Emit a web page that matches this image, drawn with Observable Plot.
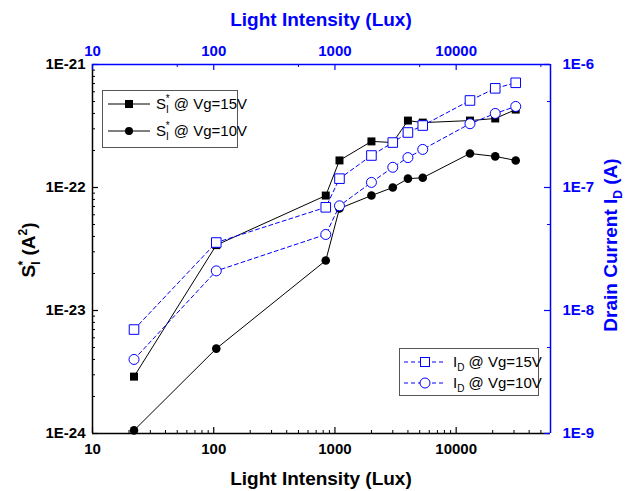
<!DOCTYPE html>
<html>
<head>
<meta charset="utf-8">
<script src="https://cdn.jsdelivr.net/npm/d3@7"></script>
<script src="https://cdn.jsdelivr.net/npm/@observablehq/plot@0.6"></script>
<style>
  body { margin: 0; background: #fff; }
  #chart { position: relative; width: 632px; height: 491px; }
  #chart svg { position: absolute; left: 0; top: 0; }
</style>
</head>
<body>
<div id="chart"></div>
<script>
// Illumination levels (lux)
const lux = [22, 105, 840, 1090, 2000, 3000, 4000, 5300, 13000, 21000, 31000];
// Normalised noise S_I* (A^2)
const noiseVg15 = [2.9e-24, 3.4e-23, 8.6e-23, 1.66e-22, 2.37e-22, 2.32e-22, 3.5e-22, 3.37e-22, 3.5e-22, 3.64e-22, 4.3e-22];
const noiseVg10 = [1.06e-24, 4.9e-24, 2.55e-23, 6.75e-23, 8.6e-23, 1.0e-22, 1.18e-22, 1.2e-22, 1.89e-22, 1.79e-22, 1.66e-22];
// Drain current I_D (A)
const currentVg15 = [7.0e-9, 3.57e-8, 6.9e-8, 1.18e-7, 1.82e-7, 2.32e-7, 2.8e-7, 3.19e-7, 5.1e-7, 6.4e-7, 7.1e-7];
const currentVg10 = [4.0e-9, 2.1e-8, 4.15e-8, 7.1e-8, 1.1e-7, 1.46e-7, 1.75e-7, 2.04e-7, 3.3e-7, 4.0e-7, 4.56e-7];

// Axis ranges and tick values
const luxDomain = [10, 60000];
const noiseDomain = [1e-24, 1e-21];
const currentDomain = [1e-9, 1e-6];
const luxTicks = [10, 100, 1000, 10000];
const noiseTicks = [1e-24, 1e-23, 1e-22, 1e-21];
const currentTicks = [1e-9, 1e-8, 1e-7, 1e-6];

const W = 632, H = 491;
const M = {top: 64, right: 82, bottom: 58, left: 92};
const plotW = W - M.left - M.right, plotH = H - M.top - M.bottom;
const blue = "#0000ff";
const font = "'Liberation Sans', Arial, sans-serif";

const sci = d => "1E" + Math.round(Math.log10(d));
function minorTicks([lo, hi], mults) {
  const out = [];
  for (let e = Math.floor(Math.log10(lo)); e <= Math.ceil(Math.log10(hi)); e++)
    for (const m of mults) {
      const v = m * Math.pow(10, e);
      if (v > lo * 1.0001 && v < hi * 0.9999) out.push(v);
    }
  return out;
}
const all = [2, 3, 4, 5, 6, 7, 8, 9];

const rows = arr => lux.map((x, i) => ({lux: x, v: arr[i]}));
const s15 = rows(noiseVg15), s10 = rows(noiseVg10);
const i15 = rows(currentVg15), i10 = rows(currentVg10);

const frameOpts = {
  width: W, height: H,
  marginTop: M.top, marginRight: M.right, marginBottom: M.bottom, marginLeft: M.left,
  style: {fontFamily: font, fontSize: "15px", fontWeight: "bold", background: "transparent", overflow: "visible"}
};

// Noise layer: bottom and left axes
const noisePlot = Plot.plot({
  ...frameOpts,
  x: {type: "log", domain: luxDomain},
  y: {type: "log", domain: noiseDomain},
  marks: [
    Plot.ruleX(minorTicks(luxDomain, all), {x: d => d, insetTop: plotH - 3, stroke: "black"}),
    Plot.ruleX(luxTicks, {x: d => d, insetTop: plotH - 6, stroke: "black", strokeWidth: 1.2}),
    Plot.ruleY(minorTicks(noiseDomain, all), {y: d => d, insetRight: plotW - 3, stroke: "black"}),
    Plot.ruleY(noiseTicks, {y: d => d, insetRight: plotW - 6, stroke: "black", strokeWidth: 1.2}),
    Plot.ruleX([luxDomain[0]], {x: d => d, stroke: "black", strokeWidth: 1.5}),
    Plot.ruleY([noiseDomain[0]], {y: d => d, stroke: "black", strokeWidth: 1.5}),
    Plot.axisX({ticks: luxTicks, tickSize: 0, tickPadding: 10, tickFormat: d => String(d), label: null, color: "black"}),
    Plot.axisY({ticks: noiseTicks, tickSize: 0, tickPadding: 7, tickFormat: sci, label: null, color: "black"}),
    Plot.line(s15, {x: "lux", y: "v", stroke: "black", strokeWidth: 1}),
    Plot.dot(s15, {x: "lux", y: "v", symbol: "square", fill: "black", r: 4.5}),
    Plot.line(s10, {x: "lux", y: "v", stroke: "black", strokeWidth: 1}),
    Plot.dot(s10, {x: "lux", y: "v", symbol: "circle", fill: "black", r: 4.3})
  ]
});

// Current layer: top and right axes
const currentPlot = Plot.plot({
  ...frameOpts,
  x: {type: "log", domain: luxDomain},
  y: {type: "log", domain: currentDomain},
  marks: [
    Plot.ruleX(minorTicks(luxDomain, [5]), {x: d => d, insetBottom: plotH - 3, stroke: blue}),
    Plot.ruleX(luxTicks, {x: d => d, insetBottom: plotH - 6, stroke: blue, strokeWidth: 1.2}),
    Plot.ruleY(minorTicks(currentDomain, [5]), {y: d => d, insetLeft: plotW - 3, stroke: blue}),
    Plot.ruleY(currentTicks, {y: d => d, insetLeft: plotW - 6, stroke: blue, strokeWidth: 1.2}),
    Plot.ruleX([luxDomain[1]], {x: d => d, stroke: blue, strokeWidth: 1.5}),
    Plot.ruleY([currentDomain[1]], {y: d => d, stroke: blue, strokeWidth: 1.5}),
    Plot.axisX({anchor: "top", ticks: luxTicks, tickSize: 0, tickPadding: 9, tickFormat: d => String(d), label: null, color: blue}),
    Plot.axisY({anchor: "right", ticks: currentTicks, tickSize: 0, tickPadding: 12, tickFormat: sci, label: null, color: blue}),
    Plot.line(i15, {x: "lux", y: "v", stroke: blue, strokeWidth: 1, strokeDasharray: "4,3"}),
    Plot.dot(i15, {x: "lux", y: "v", symbol: "square", stroke: blue, fill: "white", strokeWidth: 1, r: 5.4}),
    Plot.line(i10, {x: "lux", y: "v", stroke: blue, strokeWidth: 1, strokeDasharray: "4,3"}),
    Plot.dot(i10, {x: "lux", y: "v", symbol: "circle", stroke: blue, fill: "white", strokeWidth: 1, r: 5})
  ]
});

const chart = document.getElementById("chart");
chart.appendChild(noisePlot);
chart.appendChild(currentPlot);

// Axis titles and legends
const svg = d3.select(chart).append("svg")
  .attr("width", W).attr("height", H)
  .style("font-family", font);

svg.append("text")
  .attr("x", 321).attr("y", 485).attr("text-anchor", "middle")
  .attr("font-size", 19).attr("font-weight", "bold").attr("fill", "black")
  .text("Light Intensity (Lux)");

svg.append("text")
  .attr("x", 321).attr("y", 26).attr("text-anchor", "middle")
  .attr("font-size", 19).attr("font-weight", "bold").attr("fill", blue)
  .text("Light Intensity (Lux)");

const leftTitle = svg.append("text")
  .attr("transform", "translate(35,250) rotate(-90)").attr("text-anchor", "middle")
  .attr("font-size", 19).attr("font-weight", "bold").attr("fill", "black");
leftTitle.append("tspan").text("S");
leftTitle.append("tspan").attr("font-size", 12).attr("dy", 5).text("I");
leftTitle.append("tspan").attr("font-size", 12).attr("dx", -4).attr("dy", -13).text("*");
leftTitle.append("tspan").attr("dy", 8).text(" (A");
leftTitle.append("tspan").attr("font-size", 12).attr("dy", -8).text("2");
leftTitle.append("tspan").attr("dy", 8).text(")");

const rightTitle = svg.append("text")
  .attr("transform", "translate(617,245) rotate(-90)").attr("text-anchor", "middle")
  .attr("font-size", 19).attr("font-weight", "bold").attr("fill", blue);
rightTitle.append("tspan").text("Drain Current I");
rightTitle.append("tspan").attr("font-size", 12).attr("dy", 5).text("D");
rightTitle.append("tspan").attr("dy", -5).text(" (A)");

// Legend labels with sub- and superscripts
function legendLabel(g, x, y, main, sub, sup, rest) {
  const t = g.append("text").attr("x", x).attr("y", y).attr("font-size", 15).attr("fill", "black");
  t.append("tspan").text(main);
  t.append("tspan").attr("font-size", 10).attr("dy", 4).text(sub);
  let back = -4;
  if (sup) {
    t.append("tspan").attr("font-size", 10).attr("dx", -3).attr("dy", -11).text(sup);
    back = 7;
  }
  t.append("tspan").attr("dy", back).text(rest);
}

// Legend for the noise series
const leg1 = svg.append("g");
leg1.append("rect").attr("x", 102.5).attr("y", 90.5).attr("width", 135).attr("height", 57)
  .attr("fill", "white").attr("stroke", "#555").attr("stroke-width", 1);
[["square", 104, " @ Vg=15V"], ["circle", 131, " @ Vg=10V"]].forEach(([sym, y, label]) => {
  leg1.append("line").attr("x1", 108).attr("x2", 150).attr("y1", y).attr("y2", y).attr("stroke", "black");
  if (sym === "square") leg1.append("rect").attr("x", 125).attr("y", y - 4).attr("width", 8).attr("height", 8).attr("fill", "black");
  else leg1.append("circle").attr("cx", 129).attr("cy", y).attr("r", 4).attr("fill", "black");
  legendLabel(leg1, 156, y + 5, "S", "I", "*", label);
});

// Legend for the current series
const leg2 = svg.append("g");
leg2.append("rect").attr("x", 399.5).attr("y", 348.5).attr("width", 139).attr("height", 47)
  .attr("fill", "white").attr("stroke", "#555").attr("stroke-width", 1);
[["square", 362, " @ Vg=15V"], ["circle", 383, " @ Vg=10V"]].forEach(([sym, y, label]) => {
  leg2.append("line").attr("x1", 404).attr("x2", 446).attr("y1", y).attr("y2", y)
    .attr("stroke", blue).attr("stroke-dasharray", "4,3");
  if (sym === "square") leg2.append("rect").attr("x", 420.5).attr("y", y - 4.5).attr("width", 9).attr("height", 9)
    .attr("fill", "white").attr("stroke", blue);
  else leg2.append("circle").attr("cx", 425).attr("cy", y).attr("r", 5).attr("fill", "white").attr("stroke", blue);
  legendLabel(leg2, 453, y + 5, "I", "D", null, label);
});
</script>
</body>
</html>
